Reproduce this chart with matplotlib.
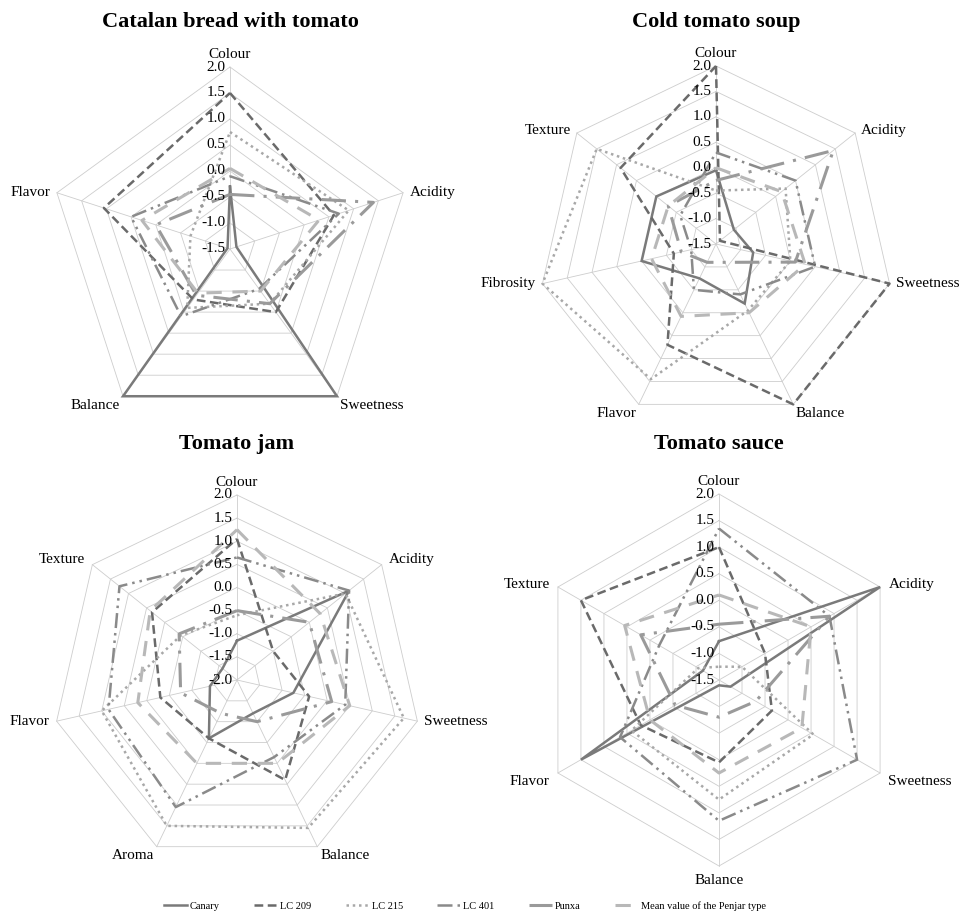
import matplotlib
matplotlib.use('Agg')
import matplotlib.pyplot as plt
import numpy as np
from matplotlib.lines import Line2D

plt.rcParams['font.family'] = ['Liberation Serif', 'DejaVu Serif']

W, H = 959, 916
fig = plt.figure(figsize=(W / 100, H / 100), dpi=100)

series_names = ['Canary', 'LC 209', 'LC 215', 'LC 401', 'Punxa',
                'Mean value of the Penjar type']

# ---- Catalan bread with tomato ----
bread_cats = ['Colour', 'Acidity', 'Sweetness', 'Balance', 'Flavor']
bread_canary = [-0.3, -1.37, 2.0, 2.0, -1.45]
bread_lc209 = [1.5, 0.6, 0.0, -0.3, 1.05]
bread_lc215 = [0.75, 0.9, -0.2, -0.1, -0.7]
bread_lc401 = [-0.1, 0.7, -0.55, 0.1, 0.5]
bread_punxa = [-0.45, 1.4, -0.2, -0.4, 0.0]
bread_mean = [0.05, 0.3, -0.5, -0.45, 0.28]

# ---- Cold tomato soup ----
soup_cats = ['Colour', 'Acidity', 'Sweetness', 'Balance', 'Flavor', 'Fibrosity', 'Texture']
soup_canary = [-0.05, -1.05, -0.75, -0.2, -0.75, 0.0, 0.0]
soup_lc209 = [2.0, -1.4, 2.0, 2.0, 0.7, -0.65, 0.9]
soup_lc215 = [-0.45, 0.25, 0.0, -0.05, 1.45, 2.0, 1.5]
soup_lc401 = [0.3, 0.5, 0.5, -0.4, -0.5, -1.0, -0.6]
soup_punxa = [-0.25, 1.45, 0.1, -1.1, -1.1, -0.8, -0.3]
soup_mean = [0.0, 0.15, 0.3, 0.0, 0.08, -0.2, -0.3]

# ---- Tomato jam ----
jam_cats = ['Colour', 'Acidity', 'Sweetness', 'Balance', 'Aroma', 'Flavor', 'Texture']
jam_canary = [-1.15, 1.1, -0.75, -1.2, -0.6, -1.4, -1.6]
jam_lc209 = [1.05, -1.0, -0.4, 0.4, -0.6, -0.3, 0.35]
jam_lc215 = [-0.6, 1.0, 1.7, 1.55, 1.5, 1.0, -0.45]
jam_lc401 = [0.65, 1.1, 0.4, -0.15, 1.05, 0.85, 1.25]
jam_punxa = [-0.5, 0.0, 0.1, -1.0, -1.2, -0.75, -0.4]
jam_mean = [1.25, 0.3, 0.5, 0.0, 0.0, 0.2, 0.4]

# ---- Tomato sauce ----
sauce_cats = ['Colour', 'Acidity', 'Sweetness', 'Balance', 'Flavor', 'Texture']
sauce_canary = [-0.77, 2.0, -1.25, -1.4, 1.5, -1.15]
sauce_lc209 = [1.0, -0.5, -0.35, 0.05, 0.2, 1.5]
sauce_lc215 = [-1.25, -1.0, 0.55, 0.75, 0.4, -1.05]
sauce_lc401 = [1.35, 0.9, 1.5, 1.15, 0.65, -0.2]
sauce_punxa = [-0.45, 0.9, -0.7, -0.8, -0.55, 0.2]
sauce_mean = [0.1, 0.5, 0.3, 0.25, 0.0, 0.55]

styles = [
    dict(color='#7a7a7a', lw=1.8, ls='-'),
    dict(color='#6a6a6a', lw=1.8, dashes=(3.5, 1.8)),
    dict(color='#a8a8a8', lw=1.8, dashes=(1.0, 1.5)),
    dict(color='#8a8a8a', lw=1.8, dashes=(6, 2, 1, 2, 1, 2)),
    dict(color='#9a9a9a', lw=2.2, dashes=(8, 3, 1, 3)),
    dict(color='#b8b8b8', lw=2.2, dashes=(5, 3.5)),
]

GRID = '#cdcdcd'


def radar(cx, cy, R, cats, data, rmin, rmax, title, label_pos):
    ax = fig.add_axes([(cx - R) / W, 1 - (cy + R) / H, 2 * R / W, 2 * R / H],
                      projection='polar')
    n = len(cats)
    theta = np.linspace(0, 2 * np.pi, n, endpoint=False)
    ax.set_theta_zero_location('N')
    ax.set_theta_direction(-1)
    ax.set_ylim(rmin, rmax)
    ax.axis('off')
    thc = np.append(theta, theta[0])
    levels = np.arange(rmin, rmax + 0.001, 0.5)
    for lv in levels[1:]:
        ax.plot(thc, [lv] * (n + 1), color=GRID, lw=0.6, zorder=1, clip_on=False)
    for t in theta:
        ax.plot([t, t], [rmin, rmax], color=GRID, lw=0.6, zorder=1, clip_on=False)
    for vals, st in zip(data, styles):
        v = np.append(vals, vals[0])
        ax.plot(thc, v, zorder=3, clip_on=False, solid_joinstyle='miter', **st)
    for lv in levels:
        ax.annotate(f'{lv:.1f}', xy=(0, lv), xytext=(-3, 0), textcoords='offset points',
                    ha='right', va='center', fontsize=11, zorder=5)
    for t, c, (ha, va, dx, dy) in zip(theta, cats, label_pos):
        ax.annotate(c, xy=(t, rmax), xytext=(dx, dy), textcoords='offset points',
                    ha=ha, va=va, fontsize=11, annotation_clip=False)
    fig.text(cx / W, 1 - 22 / H if cy < 400 else 1 - 444 / H, title, ha='center',
             va='center', fontsize=16, fontweight='bold')
    return ax


radar(230, 249, 182, bread_cats,
      [bread_canary, bread_lc209, bread_lc215, bread_lc401, bread_punxa, bread_mean],
      -1.5, 2.0, 'Catalan bread with tomato',
      [('center', 'bottom', 0, 4), ('left', 'center', 5, 0), ('left', 'top', 2, -2),
       ('right', 'top', -2, -2), ('right', 'center', -5, 0)])

radar(716, 244, 178, soup_cats,
      [soup_canary, soup_lc209, soup_lc215, soup_lc401, soup_punxa, soup_mean],
      -1.5, 2.0, 'Cold tomato soup',
      [('center', 'bottom', 0, 4), ('left', 'center', 4, 2), ('left', 'center', 5, 0),
       ('left', 'top', 2, -2), ('right', 'top', -2, -2), ('right', 'center', -5, 0),
       ('right', 'center', -4, 2)])

radar(237, 680, 185, jam_cats,
      [jam_canary, jam_lc209, jam_lc215, jam_lc401, jam_punxa, jam_mean],
      -2.0, 2.0, 'Tomato jam',
      [('center', 'bottom', 0, 4), ('left', 'center', 5, 4), ('left', 'center', 5, 0),
       ('left', 'top', 2, -2), ('right', 'top', -2, -2), ('right', 'center', -5, 0),
       ('right', 'center', -5, 4)])

radar(719, 680, 186, sauce_cats,
      [sauce_canary, sauce_lc209, sauce_lc215, sauce_lc401, sauce_punxa, sauce_mean],
      -1.5, 2.0, 'Tomato sauce',
      [('center', 'bottom', 0, 4), ('left', 'center', 6, 2), ('left', 'center', 6, -6),
       ('center', 'top', 0, -6), ('right', 'center', -6, -6), ('right', 'center', -6, 2)])

handles = [Line2D([], [], **st) for st in styles]
fig.legend(handles, series_names, ncol=6, loc='center', bbox_to_anchor=(465 / W, 1 - 906 / H),
           frameon=False, fontsize=7.5, handlelength=2.2, handletextpad=0.3,
           columnspacing=3.3)

fig.savefig('out.png', dpi=100, facecolor='white')
